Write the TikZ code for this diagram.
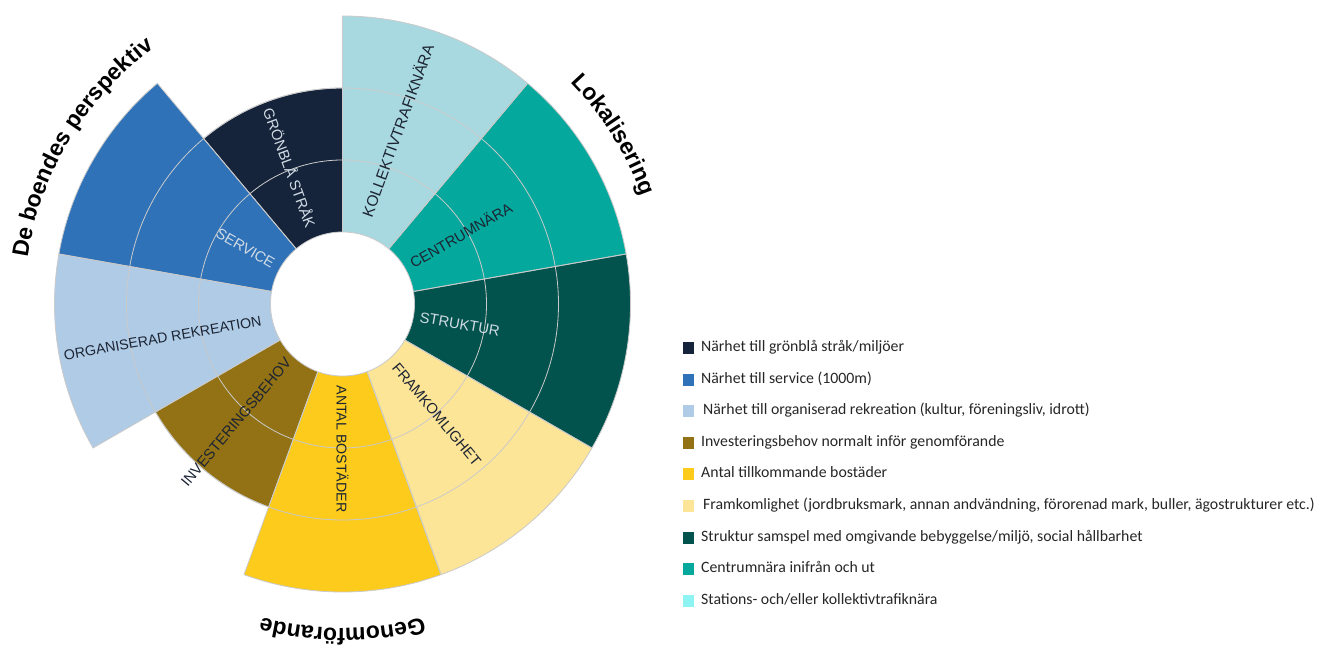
\documentclass[tikz,border=0pt]{standalone}
\usepackage{fontspec}
\setmainfont{Carlito}
\newfontfamily\lsans{Liberation Sans}
\usetikzlibrary{decorations.text}
\definecolor{cNavy}{HTML}{15243B}
\definecolor{cBlue}{HTML}{2F72B8}
\definecolor{cLblue}{HTML}{AFCBE6}
\definecolor{cOlive}{HTML}{927214}
\definecolor{cYellow}{HTML}{FCCB1C}
\definecolor{cLyellow}{HTML}{FDE597}
\definecolor{cDteal}{HTML}{02534D}
\definecolor{cTeal}{HTML}{05A89C}
\definecolor{cKoll}{HTML}{A9D9E0}
\definecolor{cCyan}{HTML}{8EF3F3}
\definecolor{gridc}{HTML}{CACACA}
\definecolor{darktxt}{HTML}{1C2433}
\definecolor{lighttxt}{HTML}{D2DCE6}
\begin{document}
\begin{tikzpicture}[x=1pt,y=1pt,
  grid/.style={draw=gridc, line width=0.8pt},
  seclab/.style={font=\lsans\fontsize{14.8}{15}\selectfont, inner sep=0pt},
  smalllab/.style={font=\lsans\fontsize{14.2}{15}\selectfont},
  legbox/.style={minimum width=11pt, minimum height=12pt, inner sep=0pt},
  legtxt/.style={anchor=mid west, inner sep=0pt, font=\fontsize{15.8}{18}\selectfont, text=black!85},
  arclab/.style={decorate, decoration={text along path, text align=center,
     text={|\lsans\bfseries\fontsize{23}{27}\selectfont|#1}}}
]
\useasboundingbox (0,0) rectangle (1318,648);
\coordinate (O) at (342.5,344);
% sectors
\foreach \a/\b/\r/\c in {50/90/288/cKoll, 10/50/288/cTeal, -30/10/288/cDteal,
   -70/-30/288/cLyellow, -110/-70/288/cYellow, -150/-110/216/cOlive,
   170/210/288/cLblue, 130/170/288/cBlue, 90/130/216/cNavy}{
  \fill[\c] (O) -- ++(\a:\r) arc[start angle=\a, end angle=\b, radius=\r] -- cycle;
}
\draw[grid] (O) circle[radius=144];
\draw[grid] (O) circle[radius=216];
\foreach \a/\b/\r in {50/90/288, 10/50/288, -30/10/288, -70/-30/288, -110/-70/288,
   -150/-110/216, 170/210/288, 130/170/288, 90/130/216}{
  \draw[grid] (O) -- ++(\a:\r) arc[start angle=\a, end angle=\b, radius=\r] -- cycle;
}
\fill[white, draw=gridc, line width=0.8pt] (O) circle[radius=72];
% sector labels
\node[seclab, text=lighttxt, rotate=-70] (lGron) at ([shift={(111:146)}]O) {GRÖNBLÅ STRÅK};
\node[seclab, text=lighttxt, rotate=-30] (lServ) at ([shift={(150:112)}]O) {SERVICE};
\node[seclab, smalllab, text=darktxt, rotate=10] (lOrg) at ([shift={(190.7:183)}]O) {ORGANISERAD REKREATION};
\node[seclab, text=darktxt, rotate=50] (lInv) at ([shift={(228:159)}]O) {INVESTERINGSBEHOV};
\node[seclab, smalllab, text=darktxt, rotate=-90] (lAnt) at ([shift={(-90:145)}]O) {ANTAL BOSTÄDER};
\node[seclab, text=darktxt, rotate=-50] (lFram) at ([shift={(-49.5:145)}]O) {FRAMKOMLIGHET};
\node[seclab, text=lighttxt, rotate=-10] (lStr) at ([shift={(-9.7:119)}]O) {STRUKTUR};
\node[seclab, text=darktxt, rotate=30] (lCen) at ([shift={(30.4:137)}]O) {CENTRUMNÄRA};
\node[seclab, text=darktxt, rotate=70, font=\lsans\fontsize{15.5}{16}\selectfont] (lKol) at ([shift={(72.5:182)}]O) {KOLLEKTIVTRAFIKNÄRA};
% curved group labels
\path[arclab={De boendes perspektiv}] (O) ++(185:318) arc[start angle=185, end angle=113, radius=318];
\path[arclab={Lokalisering}] (O) ++(62:318) arc[start angle=62, end angle=2, radius=318];
\path[arclab={Genomförande}] (O) ++(-50:324) arc[start angle=-50, end angle=-130, radius=324];
% legend
\node[legbox, fill=cNavy]    (k1) at (688,300) {};
\node[legbox, fill=cBlue]    (k2) at (688,268) {};
\node[legbox, fill=cLblue]   (k3) at (688,237) {};
\node[legbox, fill=cOlive]   (k4) at (688,205) {};
\node[legbox, fill=cYellow]  (k5) at (688,174) {};
\node[legbox, fill=cLyellow] (k6) at (688,142) {};
\node[legbox, fill=cDteal]   (k7) at (688,110) {};
\node[legbox, fill=cTeal]    (k8) at (688,79) {};
\node[legbox, fill=cCyan]    (k9) at (688,47) {};
\node[legtxt] (t1) at (701,299) {Närhet till grönblå stråk/miljöer};
\node[legtxt] (t2) at (701,267) {Närhet till service (1000m)};
\node[legtxt] (t3) at (703,236) {Närhet till organiserad rekreation (kultur, föreningsliv, idrott)};
\node[legtxt] (t4) at (701,204) {Investeringsbehov normalt inför genomförande};
\node[legtxt] (t5) at (701,173) {Antal tillkommande bostäder};
\node[legtxt] (t6) at (703,141) {Framkomlighet (jordbruksmark, annan andvändning, förorenad mark, buller, ägostrukturer etc.)};
\node[legtxt] (t7) at (701,109) {Struktur samspel med omgivande bebyggelse/miljö, social hållbarhet};
\node[legtxt] (t8) at (701,78) {Centrumnära inifrån och ut};
\node[legtxt] (t9) at (701,46) {Stations- och/eller kollektivtrafiknära};
\end{tikzpicture}
\end{document}
